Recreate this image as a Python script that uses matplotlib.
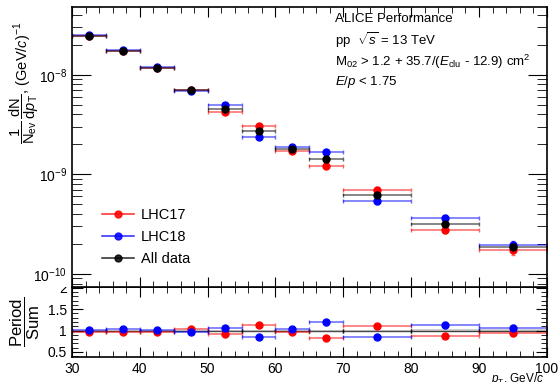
# ALICE-style spectrum with period ratio panel
import numpy as np
import matplotlib
matplotlib.use("Agg")
import matplotlib.pyplot as plt
from matplotlib.ticker import MultipleLocator, LogLocator, NullFormatter
from matplotlib.lines import Line2D
from matplotlib.patches import Rectangle

plt.rcParams["font.family"] = ["Liberation Sans", "DejaVu Sans"]
plt.rcParams["mathtext.fontset"] = "custom"
plt.rcParams["mathtext.rm"] = "Liberation Sans"
plt.rcParams["mathtext.it"] = "Liberation Sans:italic"

# bins in pT (GeV/c)
bin_lo = [30, 35, 40, 45, 50, 55, 60, 65, 70, 80, 90]
bin_hi = [35, 40, 45, 50, 55, 60, 65, 70, 80, 90, 100]

# spectra
lhc17 = [2.45e-8, 1.73e-8, 1.17e-8, 7.1e-9, 4.22e-9, 3.07e-9, 1.73e-9, 1.22e-9, 7.0e-10, 2.77e-10, 1.74e-10]
lhc18 = [2.50e-8, 1.77e-8, 1.19e-8, 6.9e-9, 4.96e-9, 2.38e-9, 1.89e-9, 1.67e-9, 5.4e-10, 3.63e-10, 1.95e-10]
alldata = [2.47e-8, 1.75e-8, 1.18e-8, 7.0e-9, 4.55e-9, 2.75e-9, 1.78e-9, 1.42e-9, 6.2e-10, 3.18e-10, 1.86e-10]
lhc17_err = [0.02e-8, 0.02e-8, 0.015e-8, 0.1e-9, 0.08e-9, 0.08e-9, 0.06e-9, 0.06e-9, 0.4e-10, 0.22e-10, 0.21e-10]
lhc18_err = [0.02e-8, 0.02e-8, 0.015e-8, 0.1e-9, 0.08e-9, 0.07e-9, 0.06e-9, 0.07e-9, 0.35e-10, 0.25e-10, 0.21e-10]
all_err = [0.015e-8, 0.015e-8, 0.01e-8, 0.07e-9, 0.06e-9, 0.05e-9, 0.04e-9, 0.05e-9, 0.25e-10, 0.16e-10, 0.13e-10]

# ratios period / sum
r17 = [0.968, 0.968, 0.968, 1.024, 0.92, 1.12, 0.976, 0.825, 1.11, 0.865, 0.93]
r18 = [1.016, 1.024, 1.016, 0.976, 1.07, 0.84, 1.03, 1.19, 0.857, 1.14, 1.06]
r17_err = [0.01, 0.01, 0.01, 0.015, 0.02, 0.025, 0.02, 0.03, 0.03, 0.04, 0.05]
r18_err = [0.01, 0.01, 0.01, 0.015, 0.02, 0.025, 0.02, 0.05, 0.03, 0.07, 0.08]
rsum_err = [0.005, 0.005, 0.005, 0.008, 0.01, 0.012, 0.015, 0.015, 0.02, 0.025, 0.03]

lo = np.array(bin_lo, dtype=float)
hi = np.array(bin_hi, dtype=float)
x = 0.5 * (lo + hi)
xerr = 0.5 * (hi - lo)

fig = plt.figure(figsize=(5.58, 3.82), dpi=100)
ax = fig.add_axes([0.129, 0.249, 0.851, 0.733])
axr = fig.add_axes([0.129, 0.0654, 0.851, 0.1836])
ax.set_zorder(2)

def draw(axis, y, yerr, col):
    eb = axis.errorbar(x, y, xerr=xerr, yerr=yerr, fmt="o", color=col, ms=5,
                       elinewidth=1.1, capsize=1.5, capthick=1.0)
    for c in eb[1] + eb[2]:
        c.set_alpha(0.6)
    return eb

draw(ax, lhc17, lhc17_err, "red")
draw(ax, lhc18, lhc18_err, "blue")
draw(ax, alldata, all_err, "black")

ax.set_yscale("log")
ax.set_xlim(30, 100)
ax.set_ylim(7.4e-11, 4.8e-8)
ax.xaxis.set_major_locator(MultipleLocator(10))
ax.xaxis.set_minor_locator(MultipleLocator(2))
ax.xaxis.set_major_formatter(NullFormatter())
ax.yaxis.set_major_locator(LogLocator(base=10))
ax.yaxis.set_minor_locator(LogLocator(base=10, subs=np.arange(2, 10)))
ax.yaxis.set_minor_formatter(NullFormatter())
ax.tick_params(which="both", direction="in", top=True, right=True, labelsize=10)
ax.tick_params(axis="x", which="major", length=7)
ax.tick_params(axis="x", which="minor", length=4)
ax.tick_params(axis="y", which="major", length=14)
ax.tick_params(axis="y", which="minor", length=7)
ax.set_ylabel(r"$\dfrac{1}{\mathrm{N_{ev}}}\,\dfrac{\mathrm{dN}}{\mathrm{d}p_{\mathrm{T}}}$, (GeV/$c$)$^{-1}$",
              fontsize=10.5)
ax.yaxis.set_label_coords(-0.066, 0.73)

handles = [Line2D([], [], color=c, marker="o", ms=5, lw=1.1, alpha=0.85) for c in ("red", "blue", "black")]
ax.legend(handles, ["LHC17", "LHC18", "All data"], loc="upper left", bbox_to_anchor=(0.035, 0.33),
          frameon=False, fontsize=10.5, handlelength=2.2, labelspacing=0.55, handletextpad=0.5)

tx = 0.553
ax.text(tx, 0.955, "ALICE Performance", transform=ax.transAxes, fontsize=9.5, va="center")
ax.text(tx, 0.88, r"pp  $\sqrt{s}$ = 13 TeV", transform=ax.transAxes, fontsize=9.5, va="center")
ax.text(tx, 0.805, r"M$_{02}$ > 1.2 + 35.7/($E_{\mathrm{clu}}$ - 12.9) cm$^{2}$",
        transform=ax.transAxes, fontsize=9.5, va="center")
ax.text(tx, 0.73, r"$E/p$ < 1.75", transform=ax.transAxes, fontsize=9.5, va="center")

# ratio panel
edges = list(lo) + [hi[-1]]
band_lo = [1 - e for e in rsum_err] + [1 - rsum_err[-1]]
band_hi = [1 + e for e in rsum_err] + [1 + rsum_err[-1]]
axr.fill_between(edges, band_lo, band_hi, step="post", color="gray", alpha=0.35, lw=0)
axr.errorbar(x, np.ones_like(x), xerr=xerr, fmt="none", ecolor="black", elinewidth=1.0,
             capsize=1.5, alpha=0.7)
draw(axr, r17, r17_err, "red")
draw(axr, r18, r18_err, "blue")

axr.set_xlim(30, 100)
axr.set_ylim(0.38, 2.02)
axr.xaxis.set_major_locator(MultipleLocator(10))
axr.xaxis.set_minor_locator(MultipleLocator(2))
axr.yaxis.set_minor_locator(MultipleLocator(0.1))
axr.set_yticks([0.5, 1, 1.5, 2])
axr.set_yticklabels(["0.5", "1", "1.5", "2"])
axr.tick_params(which="both", direction="in", top=True, right=True, labelsize=10)
axr.tick_params(axis="x", which="major", length=7)
axr.tick_params(axis="x", which="minor", length=4)
axr.tick_params(axis="y", which="major", length=8)
axr.tick_params(axis="y", which="minor", length=4)
axr.set_ylabel(r"$\dfrac{\mathrm{Period}}{\mathrm{Sum}}$", fontsize=12, labelpad=4)
axr.set_xlabel(r"$p_{\mathrm{T}}$, GeV/$c$", fontsize=8.5, loc="right")
axr.xaxis.set_label_coords(0.995, -0.205)

for a in (ax, axr):
    for s in a.spines.values():
        s.set_linewidth(1.2)

# top panel hides the upper half of the "2" ratio label, as in the original
fig.patches.append(Rectangle((0.08, 0.249), 0.05, 0.03, transform=fig.transFigure,
                             facecolor="white", edgecolor="none", zorder=1))

plt.savefig("out.png", dpi=100)
